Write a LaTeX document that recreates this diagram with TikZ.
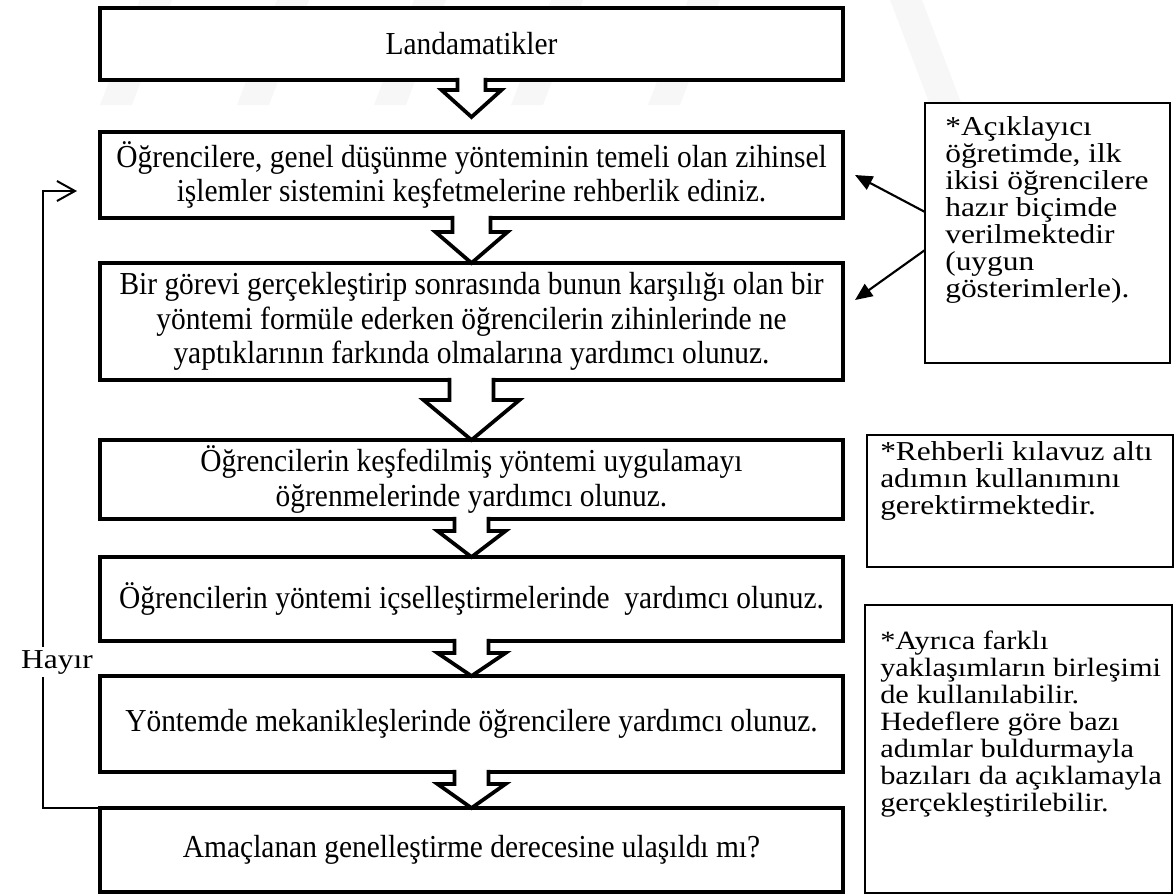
\documentclass[tikz,border=0pt]{standalone}
\usepackage{fontspec}
\setmainfont{Liberation Serif}[FakeStretch=0.92]
\newfontfamily\notefont{Liberation Serif}[FakeStretch=1.15]
\usetikzlibrary{arrows.meta,calc}

\tikzset{
  stepbox/.style={draw, fill=white, line width=3.2pt, outer sep=0pt, inner sep=0pt,
    minimum width=557.25pt, align=center, font=\fontsize{24}{26}\selectfont},
  notebox/.style={draw, fill=white, line width=1.3pt, outer sep=0pt, inner sep=0pt, anchor=north west},
  notetext/.style={anchor=north west, inner sep=0pt, align=left, font=\notefont\fontsize{20.5}{20.25}\selectfont},
  notetextsmall/.style={notetext, font=\notefont\fontsize{19.8}{20.25}\selectfont},
  blockline/.style={line width=2.8pt, line join=miter},
  loopline/.style={line width=1.5pt, -{Straight Barb[length=13.5pt,width=15pt,line width=1.5pt]}},
  pointer/.style={line width=1.6pt, -{Triangle[length=13pt,width=11pt]}},
  wmstripe/.style={fill=gray!6, draw=none},
}

% hollow block arrow hanging from the bottom of #1 down to #2
% #3 gap above #2 (px), #4 stem length (px), #5 stem half-width (px), #6 head half-width (px)
\newcommand\downblock[6]{%
  \fill[white] let \p1=(#1.south), \p2=($(#2.north)+(0,-#3)$) in
    (\x1-#5*0.75pt,\y1+1.8pt) -- (\x1-#5*0.75pt,\y1-#4*0.75pt) -- (\x1-#6*0.75pt,\y1-#4*0.75pt)
    -- (\x1,\y2) -- (\x1+#6*0.75pt,\y1-#4*0.75pt) -- (\x1+#5*0.75pt,\y1-#4*0.75pt)
    -- (\x1+#5*0.75pt,\y1+1.8pt) -- cycle;
  \draw[blockline] let \p1=(#1.south), \p2=($(#2.north)+(0,-#3)$) in
    (\x1-#5*0.75pt,\y1+1.6pt) -- (\x1-#5*0.75pt,\y1-#4*0.75pt) -- (\x1-#6*0.75pt,\y1-#4*0.75pt)
    -- (\x1,\y2) -- (\x1+#6*0.75pt,\y1-#4*0.75pt) -- (\x1+#5*0.75pt,\y1-#4*0.75pt)
    -- (\x1+#5*0.75pt,\y1+1.6pt);
}

\begin{document}
\begin{tikzpicture}[x=0.75pt,y=-0.75pt]
\useasboundingbox (0,0) rectangle (1176,894);

% faint background stripes
\foreach \s in {100,237,374,511,648}{
  \fill[wmstripe] (\s,105) -- (\s+32,105) -- (\s+72,0) -- (\s+40,0) -- cycle;
}
\fill[wmstripe] (930,105) -- (962,105) -- (922,0) -- (890,0) -- cycle;

% steps
\node[stepbox, minimum height=54pt] (B1) at (471.5,44) {Landamatikler};
\node[stepbox, minimum height=64.5pt] (B2) at (471.5,175)
  {Öğrencilere, genel düşünme yönteminin temeli olan zihinsel\\işlemler sistemini keşfetmelerine rehberlik ediniz.};
\node[stepbox, minimum height=87.75pt] (B3) at (471.5,321.5)
  {Bir görevi gerçekleştirip sonrasında bunun karşılığı olan bir\\yöntemi formüle ederken öğrencilerin zihinlerinde ne\\yaptıklarının farkında olmalarına yardımcı olunuz.};
\node[stepbox, minimum height=59.25pt] (B4) at (471.5,479.5)
  {Öğrencilerin keşfedilmiş yöntemi uygulamayı\\öğrenmelerinde yardımcı olunuz.};
\node[stepbox, minimum height=63pt] (B5) at (471.5,599)
  {Öğrencilerin yöntemi içselleştirmelerinde\ \ yardımcı olunuz.};
\node[stepbox, minimum height=72pt] (B6) at (471.5,724)
  {Yöntemde mekanikleşlerinde öğrencilere yardımcı olunuz.};
\node[stepbox, minimum height=63pt] (B7) at (471.5,850)
  {Amaçlanan genelleştirme derecesine ulaşıldı mı?};

% block arrows between the steps
\downblock{B1}{B2}{15}{10}{14}{30}
\downblock{B2}{B3}{0}{14}{19}{36}
\downblock{B3}{B4}{0}{20}{22}{48}
\downblock{B4}{B5}{0}{12}{17}{34}
\downblock{B5}{B6}{0}{12}{17}{34}
\downblock{B6}{B7}{0}{12}{17}{34}

% notes on the right
\node[notebox, minimum width=183.75pt, minimum height=195pt] (nA) at (925,103) {};
\node[notetext] (nAt) at (945,116)
  {*Açıklayıcı\\öğretimde, ilk\\ikisi öğrencilere\\hazır biçimde\\verilmektedir\\(uygun\\gösterimlerle).};
\node[notebox, minimum width=229.5pt, minimum height=99pt] (nB) at (867,435) {};
\node[notetext] (nBt) at (880,441)
  {*Rehberli kılavuz altı\\adımın kullanımını\\gerektirmektedir.};
\node[notebox, minimum width=230.25pt, minimum height=216pt] (nC) at (865,605) {};
\node[notetextsmall] (nCt) at (880,631)
  {*Ayrıca farklı\\yaklaşımların birleşimi\\de kullanılabilir.\\Hedeflere göre bazı\\adımlar buldurmayla\\bazıları da açıklamayla\\gerçekleştirilebilir.};

% pointers from the first note
\draw[pointer] ($(nA.north west)+(0,109)$) -- ($(B2.east)+(12,0)$);
\draw[pointer] ($(nA.north west)+(0,147)$) -- ($(B3.east)+(12,-21.5)$);

% loop back when the goal is not reached
\draw[loopline] (B7.north west) -- ++(-57,0) |- ($(B2.west)+(-23,16)$);
\node[fill=white, inner sep=2pt, font=\notefont\fontsize{20.5}{20}\selectfont] (no) at (57,662) {Hayır};
\end{tikzpicture}
\end{document}
